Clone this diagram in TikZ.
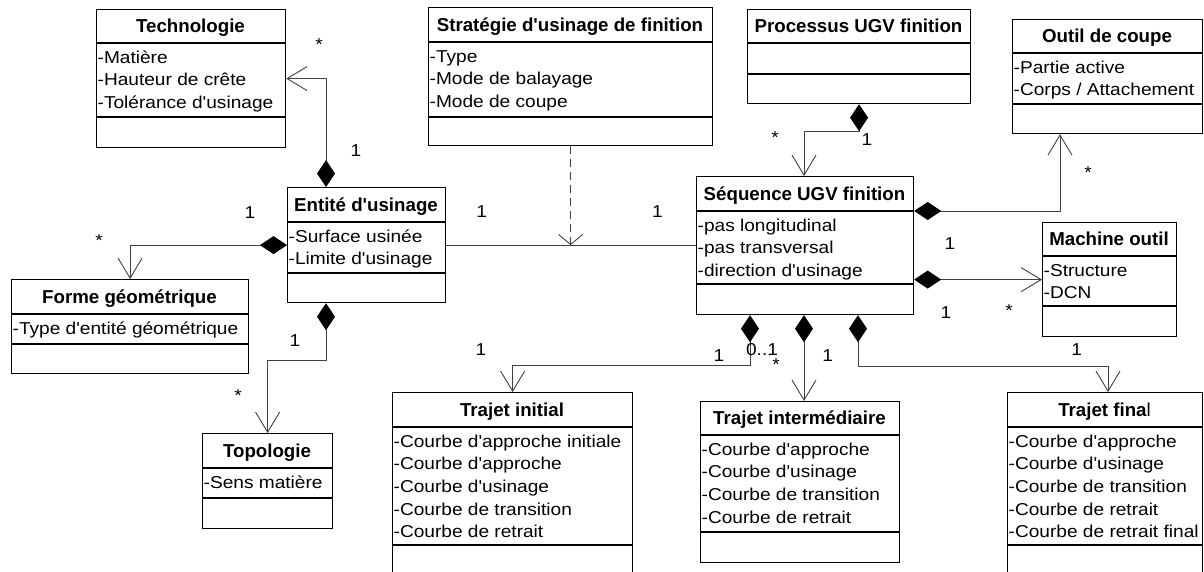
\documentclass[tikz,border=0pt]{standalone}
\usepackage{fontspec}
\setmainfont{Liberation Sans}[Ligatures=TeXOff]
\newfontfamily\attrfam{Liberation Sans}[Ligatures=TeXOff,FakeStretch=1.11]
\usetikzlibrary{arrows.meta}
\tikzset{
  classbox/.style={draw=black, line width=1.2pt, inner sep=0pt, anchor=north west},
  sepline/.style={draw=black, line width=1.2pt},
  ttl/.style={font=\fontsize{18.7}{22}\selectfont\bfseries, anchor=base, inner sep=0pt},
  attr/.style={font=\attrfam\fontsize{17.2}{22.7}\selectfont, anchor=base west, inner sep=0pt},
  mult/.style={font=\attrfam\fontsize{17.2}{20}\selectfont, anchor=base, inner sep=0pt},
  conn/.style={draw=black!75, line width=0.9pt},
  comp/.style={conn, {Diamond[length=27pt,width=18pt,color=black,fill=black]}-{Straight Barb[length=20pt,width=24pt]}},
  dep/.style={conn, dash pattern=on 8pt off 5pt, -{Straight Barb[length=10pt,width=24pt]}},
}
\newcommand\umlclass[9]{%
  \node[classbox, minimum width={(#3-#2)*1pt}, minimum height={(#7-#4)*1pt}] (#1) at (#2,#4) {};
  \draw[sepline] (#2,#5) -- (#3,#5);
  \draw[sepline] (#2,#6) -- (#3,#6);
  \node[ttl] (#1-t) at ({(#2+#3)/2},{(#4+#5)/2+6.7}) {#8};
  \foreach \a [count=\i from 0] in {#9} {\node[attr] (#1-a\i) at (#2+1.5,#5+20+22.7*\i) {\a};}
}
\begin{document}
\begin{tikzpicture}[x=1pt,y=-1pt]
\useasboundingbox (0,0) rectangle (1204,571);
\clip (0,0) rectangle (1204,571);
\umlclass{tech}{96}{285}{9}{43}{117}{147}{Technologie}{-Matière,-Hauteur de crête,-Tolérance d'usinage}
\umlclass{strat}{428}{712}{7}{42}{117}{145}{Stratégie d'usinage de finition}{-Type,-Mode de balayage,-Mode de coupe}
\umlclass{proc}{747}{970}{9}{43}{74}{103}{Processus UGV finition}{}
\umlclass{outil}{1012}{1202}{19}{53}{104}{133}{Outil de coupe}{-Partie active,-Corps / Attachement}
\umlclass{ent}{287}{445}{187}{222}{273}{302}{Entité d'usinage}{-Surface usinée,-Limite d'usinage}
\umlclass{seq}{696}{913}{176}{211}{284}{314}{Séquence UGV finition}{-pas longitudinal,-pas transversal,-direction d'usinage}
\umlclass{mach}{1042}{1176}{222}{256}{306}{336}{Machine outil}{-Structure,-DCN}
\umlclass{forme}{11}{248}{279}{314}{344}{373}{Forme géométrique}{-Type d'entité géométrique}
\umlclass{topo}{202}{332}{433}{468}{498}{528}{Topologie}{-Sens matière}
\umlclass{tinit}{392}{632}{392}{427}{545}{580}{Trajet initial}{-Courbe d'approche initiale,-Courbe d'approche,-Courbe d'usinage,-Courbe de transition,-Courbe de retrait}
\umlclass{tinter}{700}{899}{401}{435}{532}{562}{Trajet intermédiaire}{-Courbe d'approche,-Courbe d'usinage,-Courbe de transition,-Courbe de retrait}
\umlclass{tfin}{1007}{1202}{392}{427}{545}{580}{Trajet fina{\mdseries l}}{-Courbe d'approche,-Courbe d'usinage,-Courbe de transition,-Courbe de retrait,-Courbe de retrait final}

% connectors
\draw[comp] ([xshift=39pt]ent.north west) |- (tech.east);
\draw[comp] (ent.west) -| (forme.north);
\draw[comp] ([xshift=39pt]ent.south west) -- ++(0,57) -| (topo.north);
\draw[conn] (ent.east) -- (ent.east -| seq.west);
\draw[dep] (strat.south) -- (strat.south |- ent.east);
\draw[comp] (proc.south) -- ++(0,27) -| ([xshift=108pt]seq.north west);
\draw[comp] ([yshift=-35pt]seq.north east) -| ([xshift=48pt]outil.south west);
\draw[comp] (mach.west -| seq.east) -- (mach.west);
\draw[comp] ([xshift=54pt]seq.south west) -- ++(0,50) -| (tinit.north);
\coordinate (s10) at ([xshift=108pt]seq.south west);
\draw[comp] (s10) -- (s10 |- tinter.north);
\coordinate (s11) at ([xshift=162pt]seq.south west);
\draw[comp] (s11) -- ++(0,51) -| ([xshift=101pt]tfin.north west);

% multiplicities
\node[mult] (m1) at (319,50) {*};
\node[mult] (m2) at (356,156) {1};
\node[mult] (m3) at (250,218) {1};
\node[mult] (m4) at (99,246.7) {*};
\node[mult] (m5) at (295,346.7) {1};
\node[mult] (m6) at (238,401.7) {*};
\node[mult] (m7) at (481.7,217) {1};
\node[mult] (m8) at (657.3,217) {1};
\node[mult] (m9) at (775,143) {*};
\node[mult] (m10) at (867,145) {1};
\node[mult] (m11) at (1088,178) {*};
\node[mult] (m12) at (950,249.3) {1};
\node[mult] (m13) at (946,318) {1};
\node[mult] (m14) at (1009,316.7) {*};
\node[mult] (m15) at (1076.7,355) {1};
\node[mult] (m16) at (481,355) {1};
\node[mult] (m17) at (719,361.7) {1};
\node[mult] (m18) at (762,355) {0..1};
\node[mult] (m19) at (776,370) {*};
\node[mult] (m20) at (827.7,361.7) {1};
\end{tikzpicture}
\end{document}
